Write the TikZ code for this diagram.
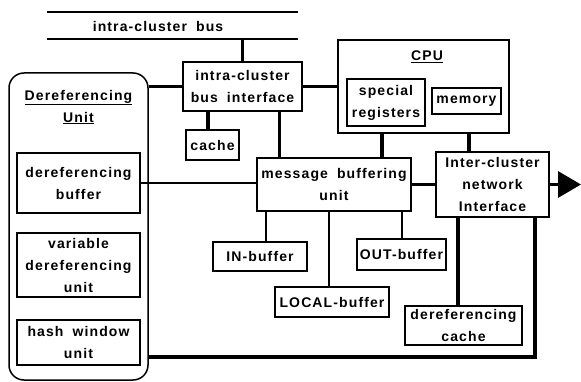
\documentclass[tikz,border=0pt]{standalone}
\usepackage{fontspec}
\setmainfont{Liberation Sans}[LetterSpace=8,WordSpace=1.8]
\usetikzlibrary{arrows.meta}

\begin{document}
\begin{tikzpicture}[x=1pt, y=-1pt,
    blk/.style={draw, line width=1.5pt, inner sep=0pt, align=center,
      font=\fontsize{14}{22}\selectfont\bfseries},
    txt/.style={inner sep=0pt, align=center, font=\fontsize{14}{22}\selectfont\bfseries},
    heavy/.style={line width=3.2pt},
    mid/.style={line width=2pt},
    light/.style={line width=1.2pt}
  ]
    \useasboundingbox (0,0) rectangle (581,382);

    % intra-cluster bus
    \draw[line width=1.5pt] (47,12) -- (298,12);
    \draw[line width=1.5pt] (47,39) -- (298,39);
    \node[txt] (bus) at (158,26) {intra-cluster bus};
    \coordinate (busbot) at (242.5,39);

    % dereferencing unit
    \node[draw, line width=1.5pt, rounded corners=15pt, minimum width=139pt,
      minimum height=307pt, inner sep=0pt] (du) at (78.5,226.5) {};
    \node[txt] (dutitle) at (78.5,107) {\underline{Dereferencing}\\\underline{Unit}};
    \node[blk, minimum width=123pt, minimum height=60pt] (dbuf) at (78.5,183) {dereferencing\\buffer};
    \node[blk, minimum width=123pt, minimum height=64pt] (vdu) at (78.5,265) {variable\\dereferencing\\unit};
    \node[blk, minimum width=123pt, minimum height=45pt] (hwu) at (78.5,342.5) {hash window\\unit};

    % bus interface and cache
    \node[blk, minimum width=119pt, minimum height=49pt] (bif) at (242.5,86.5) {intra-cluster\\bus interface};
    \node[blk, minimum width=53pt, minimum height=30pt] (cache) at (212.5,145) {cache};

    % CPU
    \node[draw, line width=1.5pt, minimum width=171pt, minimum height=93pt, inner sep=0pt] (cpu) at (423.5,86.5) {};
    \node[txt] (cputitle) at (427,57) {\underline{CPU}};
    \node[blk, minimum width=78pt, minimum height=47pt] (sreg) at (386,102.5) {special\\registers};
    \node[blk, minimum width=69pt, minimum height=26pt] (mem) at (466.5,101) {memory};

    % message buffering
    \node[blk, minimum width=154pt, minimum height=53pt] (mbu) at (334,184.5) {message buffering\\unit};
    \node[blk, minimum width=113pt, minimum height=65pt] (ini) at (492.5,184.5) {Inter-cluster\\network\\Interface};
    \node[blk, minimum width=94pt, minimum height=29pt] (inbuf) at (260,256.5) {IN-buffer};
    \node[blk, minimum width=114pt, minimum height=30pt] (locbuf) at (332,302) {LOCAL-buffer};
    \node[blk, minimum width=89pt, minimum height=31pt] (outbuf) at (401.5,254.5) {OUT-buffer};
    \node[blk, minimum width=117pt, minimum height=39pt] (dcache) at (463.5,325.5) {dereferencing\\cache};

    \coordinate (out) at (581,184.5);
    \coordinate (loop) at (535,357);

    % links
    \draw[heavy] (busbot) -- (bif.north);
    \draw[heavy] (du.east |- bif.west) -- (bif.west);
    \draw[heavy] (bif.east) -- (cpu.west |- bif.east);
    \draw[heavy] ([xshift=-4.5pt]cache.north) -- ([xshift=-4.5pt]cache.north |- bif.south);
    \draw[heavy] ([xshift=23pt]mbu.north west) -- ([xshift=23pt]mbu.north west |- bif.south);
    \draw[heavy] ([xshift=-41.5pt]cpu.south) -- ([xshift=-41.5pt]cpu.south |- mbu.north);
    \draw[heavy] ([xshift=-23.5pt]ini.north) -- ([xshift=-23.5pt]ini.north |- cpu.south);
    \draw[light] (dbuf.east) -- (mbu.west |- dbuf.east);
    \draw[heavy] (mbu.east) -- (ini.west);
    \draw[heavy, -{Triangle[length=23pt,width=26pt]}] (ini.east) -- (out);
    \draw[light] ([xshift=6pt]inbuf.north) -- ([xshift=6pt]inbuf.north |- mbu.south);
    \draw[light] ([xshift=-3pt]locbuf.north) -- ([xshift=-3pt]locbuf.north |- mbu.south);
    \draw[mid] (outbuf.north) -- (outbuf.north |- mbu.south);
    \draw[heavy] ([xshift=-5.5pt]dcache.north) -- ([xshift=-5.5pt]dcache.north |- ini.south);
    \draw[heavy] (ini.south -| loop) -- (loop) -- (loop -| du.east);
\end{tikzpicture}
\end{document}
